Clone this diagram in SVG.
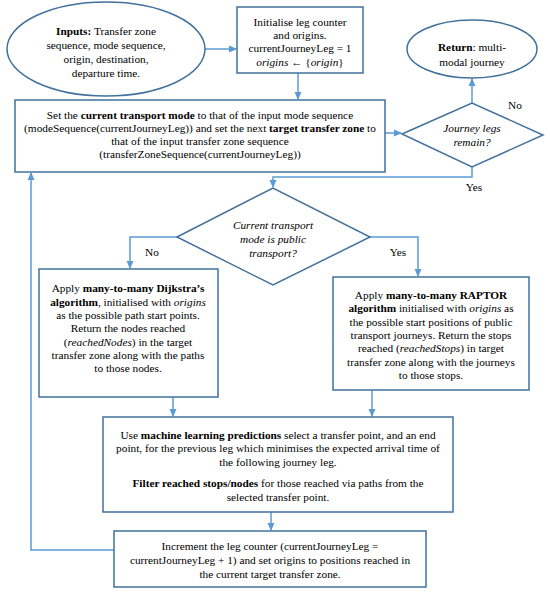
<svg xmlns="http://www.w3.org/2000/svg" width="550" height="592" viewBox="0 0 550 592" font-family="'Liberation Serif', 'DejaVu Serif', serif">
<style>
.s{fill:#fff;stroke:#41719c;stroke-width:1.5}
.c{fill:none;stroke:#5b9bd5;stroke-width:1.5}
text{font-family:'Liberation Serif','DejaVu Serif',serif;font-size:11.3px;fill:#000;text-anchor:middle}
.b{font-weight:bold}
.i{font-style:italic}
</style>
<defs>
<marker id="a" markerWidth="8" markerHeight="8" refX="7" refY="4" orient="auto" markerUnits="userSpaceOnUse">
<path d="M0,0.5 L8,4 L0,7.5 Z" fill="#5b9bd5"/>
</marker>
</defs>
<rect width="550" height="592" fill="#fff"/>
<g id="connectors">
<path class="c" d="M205,49 H236" marker-end="url(#a)"/>
<path class="c" d="M298,73 V99" marker-end="url(#a)"/>
<path class="c" d="M385,133 H401" marker-end="url(#a)"/>
<path class="c" d="M472,103 V79" marker-end="url(#a)"/>
<path class="c" d="M472,167 V177 H273 V187" marker-end="url(#a)"/>
<path class="c" d="M177,237 H130 V268" marker-end="url(#a)"/>
<path class="c" d="M370,237 H418 V276" marker-end="url(#a)"/>
<path class="c" d="M173,397 V416" marker-end="url(#a)"/>
<path class="c" d="M372,390 V416" marker-end="url(#a)"/>
<path class="c" d="M271,512 V530" marker-end="url(#a)"/>
<path class="c" d="M114,550 H31 V173" marker-end="url(#a)"/>
<text x="515" y="109">No</text>
<text x="474" y="191">Yes</text>
<text x="152" y="256">No</text>
<text x="398" y="256">Yes</text>
</g>
<g id="inputs">
<ellipse class="s" cx="106" cy="49" rx="99" ry="47"/>
<text x="106" y="35"><tspan class="b">Inputs:</tspan> Transfer zone</text>
<text x="106" y="49">sequence, mode sequence,</text>
<text x="106" y="63">origin, destination,</text>
<text x="106" y="77">departure time.</text>
</g>
<g id="init">
<rect class="s" x="237" y="7" width="126" height="66"/>
<text x="300" y="26">Initialise leg counter</text>
<text x="300" y="39">and origins.</text>
<text x="300" y="52">currentJourneyLeg = 1</text>
<text x="300" y="66"><tspan class="i">origins</tspan> ← {<tspan class="i">origin</tspan>}</text>
</g>
<g id="return">
<ellipse class="s" cx="472" cy="49" rx="65" ry="29"/>
<text x="472" y="51"><tspan class="b">Return</tspan>: multi-</text>
<text x="472" y="66">modal journey</text>
</g>
<g id="setmode">
<rect class="s" x="15" y="100" width="370" height="72"/>
<text x="200" y="119">Set the <tspan class="b">current transport mode</tspan> to that of the input mode sequence</text>
<text x="200" y="132">(modeSequence(currentJourneyLeg)) and set the next <tspan class="b">target transfer zone</tspan> to</text>
<text x="200" y="145">that of the input transfer zone sequence</text>
<text x="200" y="158">(transferZoneSequence(currentJourneyLeg))</text>
</g>
<g id="legsremain">
<polygon class="s" points="402,134 472,103 543,135 472,167"/>
<text class="i" x="472" y="132">Journey legs</text>
<text class="i" x="472" y="146">remain?</text>
</g>
<g id="publictransport">
<polygon class="s" points="177,237 273,188 370,237 273,285"/>
<text class="i" x="273" y="229">Current transport</text>
<text class="i" x="273" y="243">mode is public</text>
<text class="i" x="273" y="257">transport?</text>
</g>
<g id="dijkstra">
<rect class="s" x="39" y="269" width="179" height="128"/>
<text x="128" y="292">Apply <tspan class="b">many-to-many Dijkstra’s</tspan></text>
<text x="128" y="306"><tspan class="b">algorithm</tspan>, initialised with <tspan class="i">origins</tspan></text>
<text x="128" y="319">as the possible path start points.</text>
<text x="128" y="332">Return the nodes reached</text>
<text x="128" y="346">(<tspan class="i">reachedNodes</tspan>) in the target</text>
<text x="128" y="359">transfer zone along with the paths</text>
<text x="128" y="372">to those nodes.</text>
</g>
<g id="raptor">
<rect class="s" x="333" y="277" width="196" height="113"/>
<text x="431" y="299">Apply <tspan class="b">many-to-many RAPTOR</tspan></text>
<text x="431" y="312"><tspan class="b">algorithm</tspan> initialised with <tspan class="i">origins</tspan> as</text>
<text x="431" y="326">the possible start positions of public</text>
<text x="431" y="339">transport journeys. Return the stops</text>
<text x="431" y="352">reached (<tspan class="i">reachedStops</tspan>) in target</text>
<text x="431" y="366">transfer zone along with the journeys</text>
<text x="431" y="379">to those stops.</text>
</g>
<g id="mlselect">
<rect class="s" x="103" y="417" width="350" height="95"/>
<text x="278" y="439">Use <tspan class="b">machine learning predictions</tspan> select a transfer point, and an end</text>
<text x="278" y="452">point, for the previous leg which minimises the expected arrival time of</text>
<text x="278" y="466">the following journey leg.</text>
<text x="278" y="487"><tspan class="b">Filter reached stops/nodes</tspan> for those reached via paths from the</text>
<text x="278" y="501">selected transfer point.</text>
</g>
<g id="increment">
<rect class="s" x="114" y="531" width="312" height="56"/>
<text x="270" y="550">Increment the leg counter (currentJourneyLeg =</text>
<text x="270" y="564">currentJourneyLeg + 1) and set origins to positions reached in</text>
<text x="270" y="578">the current target transfer zone.</text>
</g>
</svg>
